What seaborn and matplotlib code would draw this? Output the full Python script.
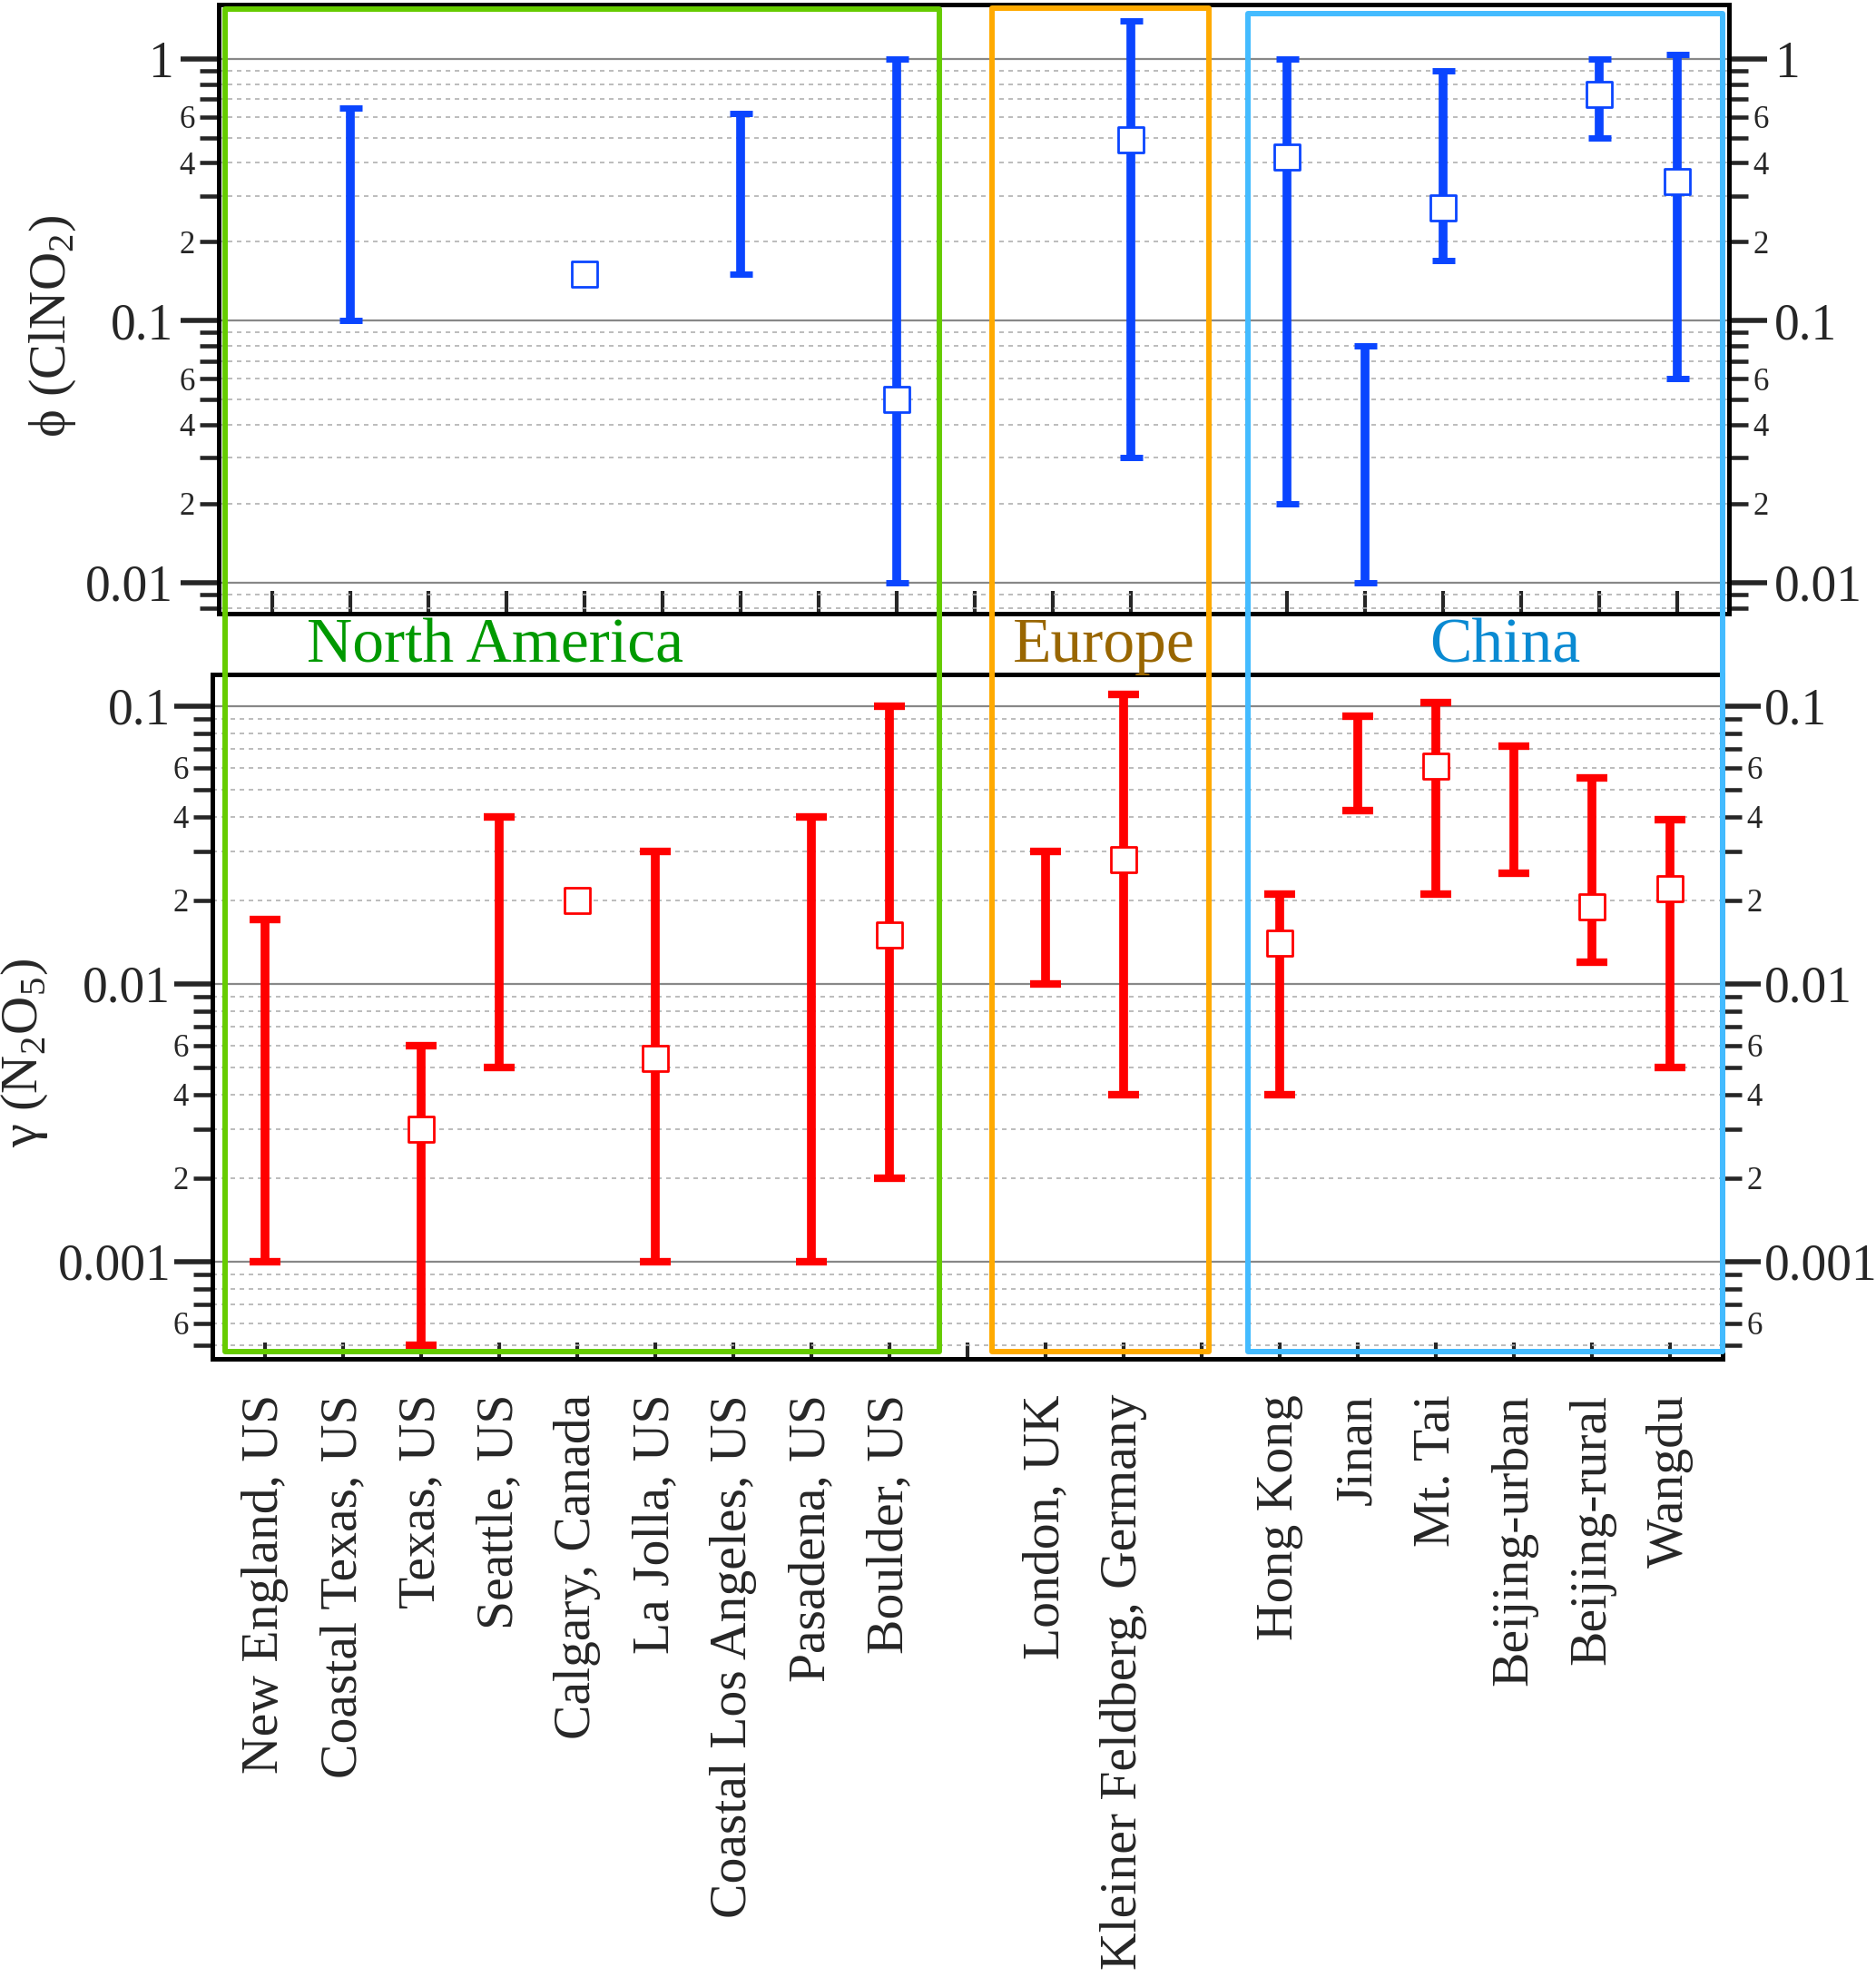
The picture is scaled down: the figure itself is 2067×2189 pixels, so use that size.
"""Uptake coefficient and ClNO2 yield ranges by site (two stacked log panels)."""

import matplotlib

matplotlib.use("Agg")
import matplotlib.pyplot as plt
import numpy as np
import pandas as pd
import seaborn as sns
from matplotlib.patches import Rectangle
from matplotlib.ticker import FuncFormatter, LogLocator

nan = np.nan

sites = [
    "New England, US", "Coastal Texas, US", "Texas, US", "Seattle, US", "Calgary, Canada",
    "La Jolla, US", "Coastal Los Angeles, US", "Pasadena, US", "Boulder, US", "",
    "London, UK", "Kleiner Feldberg, Germany", "",
    "Hong Kong", "Jinan", "Mt. Tai", "Beijing-urban", "Beijing-rural", "Wangdu",
]
phi_low = [nan, 0.10, nan, nan, nan, nan, 0.15, nan, 0.01, nan, nan, 0.03, nan, 0.02, 0.01, 0.17, nan, 0.50, 0.06]
phi_high = [nan, 0.65, nan, nan, nan, nan, 0.62, nan, 1.0, nan, nan, 1.39, nan, 1.0, 0.08, 0.90, nan, 1.0, 1.04]
phi_mid = [nan, nan, nan, nan, 0.15, nan, nan, nan, 0.05, nan, nan, 0.49, nan, 0.42, nan, 0.27, nan, 0.73, 0.34]
gamma_low = [0.001, nan, 0.0005, 0.005, nan, 0.001, nan, 0.001, 0.002, nan, 0.01, 0.004, nan, 0.004, 0.042, 0.021, 0.025, 0.012, 0.005]
gamma_high = [0.017, nan, 0.006, 0.04, nan, 0.03, nan, 0.04, 0.10, nan, 0.03, 0.11, nan, 0.021, 0.092, 0.103, 0.072, 0.055, 0.039]
gamma_mid = [nan, nan, 0.003, nan, 0.02, 0.0054, nan, nan, 0.015, nan, nan, 0.028, nan, 0.014, nan, 0.061, nan, 0.019, 0.022]

regions = ["North America", "Europe", "China"]
region_text_colors = ["#009900", "#996600", "#0A8AD2"]
region_box_colors = ["#66CC00", "#FFAA00", "#44BBFF"]

W, H = 2067, 2189
BLUE = "#0A45FF"
RED = "#FF0000"

sns.set_theme(style="white")
plt.rcParams["font.family"] = ["Liberation Serif", "DejaVu Serif"]
plt.rcParams["mathtext.fontset"] = "custom"
plt.rcParams["mathtext.rm"] = "Liberation Serif"

df = pd.DataFrame({
    "pos": np.arange(len(sites)),
    "site": sites,
    "phi_low": phi_low, "phi_high": phi_high, "phi_mid": phi_mid,
    "gamma_low": gamma_low, "gamma_high": gamma_high, "gamma_mid": gamma_mid,
})

fig = plt.figure(figsize=(W / 100, H / 100), dpi=100)
ax_top = fig.add_axes([241 / W, 1 - 676 / H, 1664 / W, 671 / H])
ax_bot = fig.add_axes([234 / W, 1 - 1497 / H, 1664 / W, 754 / H])


def minor_fmt(v, _):
    d = round(v / 10 ** np.floor(np.log10(v) + 1e-9))
    return f"{d}" if d in (2, 4, 6) else ""


def style_axis(ax, ylim, xlim, xtick_len, major_pad):
    ax.set_facecolor("none")
    ax.set_yscale("log")
    ax.set_ylim(*ylim)
    ax.set_xlim(*xlim)
    ax.yaxis.set_major_locator(LogLocator(base=10, numticks=10))
    ax.yaxis.set_minor_locator(LogLocator(base=10, subs=np.arange(2, 10), numticks=20))
    ax.yaxis.set_major_formatter(FuncFormatter(lambda v, _: f"{v:g}"))
    ax.yaxis.set_minor_formatter(FuncFormatter(minor_fmt))
    ax.grid(which="major", axis="y", color="#888888", lw=1.6, ls="-")
    ax.grid(which="minor", axis="y", color="#b0b0b0", lw=1.2, ls=(0, (3, 3)))
    ax.grid(which="both", axis="x", visible=False)
    ax.set_axisbelow(True)
    for sp in ax.spines.values():
        sp.set_color("black")
        sp.set_linewidth(3.6)
    ax.tick_params(axis="y", which="major", direction="out", length=30, width=4,
                   labelsize=40, pad=major_pad, left=True, right=True,
                   labelleft=True, labelright=True)
    ax.tick_params(axis="y", which="minor", direction="out", length=15, width=3.3,
                   labelsize=25, pad=4, left=True, right=True, labelleft=True, labelright=True)
    ax.set_xticks(df["pos"])
    ax.tick_params(axis="x", which="major", direction="in", length=xtick_len, width=3,
                   bottom=True, top=False)
    ax.tick_params(axis="x", which="minor", bottom=False, top=False)


def draw_ranges(ax, low, high, mid, color, capsize, capthick):
    rng = df.dropna(subset=[low, high])
    ax.errorbar(rng["pos"], rng[low], yerr=[np.zeros(len(rng)), rng[high] - rng[low]],
                fmt="none", ecolor=color, elinewidth=7, capsize=capsize, capthick=capthick, zorder=3)
    sns.scatterplot(data=df.dropna(subset=[mid]), x="pos", y=mid, marker="s", s=420,
                    color="white", edgecolor=color, linewidth=2, zorder=4, ax=ax, legend=False)


style_axis(ax_top, (0.0076, 1.61), (-0.686, 18.66), 18, 6)
draw_ranges(ax_top, "phi_low", "phi_high", "phi_mid", BLUE, 9, 5)
ax_top.tick_params(axis="x", labelbottom=False)
ax_top.set_xlabel("")
ax_top.set_ylabel("ϕ (ClNO$_{2}$)", fontsize=42, va="center")
ax_top.yaxis.set_label_coords(-0.110, 0.472)

style_axis(ax_bot, (4.47e-4, 0.130), (-0.674, 18.67), 13, 3)
draw_ranges(ax_bot, "gamma_low", "gamma_high", "gamma_mid", RED, 12.5, 6)
ax_bot.set_xticklabels(sites, rotation=90, fontsize=41.5, ha="center", va="top")
ax_bot.tick_params(axis="x", pad=28)
ax_bot.set_xlabel("")
ax_bot.set_ylabel("γ (N$_{2}$O$_{5}$)", fontsize=42, va="center")
ax_bot.yaxis.set_label_coords(-0.124, 0.447)

# region boxes and names (figure pixel layout)
box_px = [(248, 10, 1035, 1489), (1093, 9, 1332, 1489), (1375, 15, 1898, 1489)]
name_x = [545, 1216, 1658]
for name, tcol, bcol, (x0, y0, x1, y1), nx in zip(regions, region_text_colors,
                                                  region_box_colors, box_px, name_x):
    fig.add_artist(Rectangle((x0 / W, 1 - y1 / H), (x1 - x0) / W, (y1 - y0) / H,
                             transform=fig.transFigure, fill=False, edgecolor=bcol,
                             lw=4.3, joinstyle="round", zorder=5))
    fig.text(nx / W, 1 - 729 / H, name, color=tcol, fontsize=50, ha="center", va="baseline")

fig.savefig("out.png", dpi=100, facecolor="white")
plt.close(fig)
